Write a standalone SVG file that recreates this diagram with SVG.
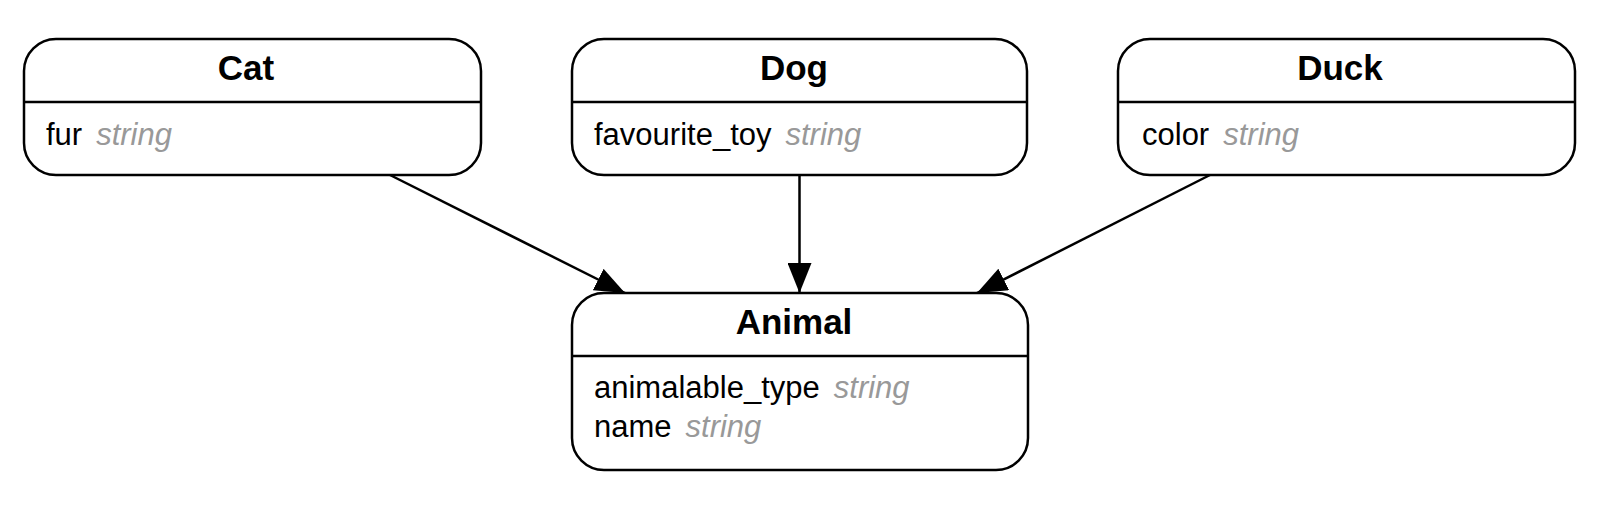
<svg xmlns="http://www.w3.org/2000/svg" width="1615" height="523" viewBox="0 0 1615 523">
<style>
.box{fill:#fff;stroke:#000;stroke-width:2.5}
.div{stroke:#000;stroke-width:2.5}
.title{font-family:"Liberation Sans",Arial,sans-serif;font-weight:bold;font-size:35px;text-anchor:middle;fill:#000}
.f{font-family:"Liberation Sans",Arial,sans-serif;font-size:31px;fill:#000}
.t{font-style:italic;fill:#999999}
.edge{stroke:#000;stroke-width:2.5;fill:none}
</style>
<defs>
<marker id="arr" viewBox="0 0 30 24" refX="30" refY="12" markerWidth="30" markerHeight="24" markerUnits="userSpaceOnUse" orient="auto">
<path d="M0,0 L30,12 L0,24 Z" fill="#000"/>
</marker>
</defs>
<rect width="1615" height="523" fill="#fff"/>
<g id="connectors">
<line class="edge" x1="390" y1="175" x2="625" y2="293" marker-end="url(#arr)"/>
<line class="edge" x1="799.5" y1="175" x2="799.5" y2="293" marker-end="url(#arr)"/>
<line class="edge" x1="1210" y1="175" x2="977" y2="293" marker-end="url(#arr)"/>
</g>
<g id="cat">
<rect class="box" x="24" y="39" width="457" height="136" rx="32" ry="32"/>
<line class="div" x1="24" y1="102" x2="481" y2="102"/>
<text class="title" x="246" y="80">Cat</text>
<text class="f" x="46" y="145">fur<tspan class="t" dx="14">string</tspan></text>
</g>
<g id="dog">
<rect class="box" x="572" y="39" width="455" height="136" rx="32" ry="32"/>
<line class="div" x1="572" y1="102" x2="1027" y2="102"/>
<text class="title" x="794" y="80">Dog</text>
<text class="f" x="594" y="145">favourite_toy<tspan class="t" dx="14">string</tspan></text>
</g>
<g id="duck">
<rect class="box" x="1118" y="39" width="457" height="136" rx="32" ry="32"/>
<line class="div" x1="1118" y1="102" x2="1575" y2="102"/>
<text class="title" x="1340" y="80">Duck</text>
<text class="f" x="1142" y="145">color<tspan class="t" dx="14">string</tspan></text>
</g>
<g id="animal">
<rect class="box" x="572" y="293" width="456" height="177" rx="32" ry="32"/>
<line class="div" x1="572" y1="356" x2="1028" y2="356"/>
<text class="title" x="794" y="334">Animal</text>
<text class="f" x="594" y="398">animalable_type<tspan class="t" dx="14">string</tspan></text>
<text class="f" x="594" y="437">name<tspan class="t" dx="14">string</tspan></text>
</g>
</svg>
